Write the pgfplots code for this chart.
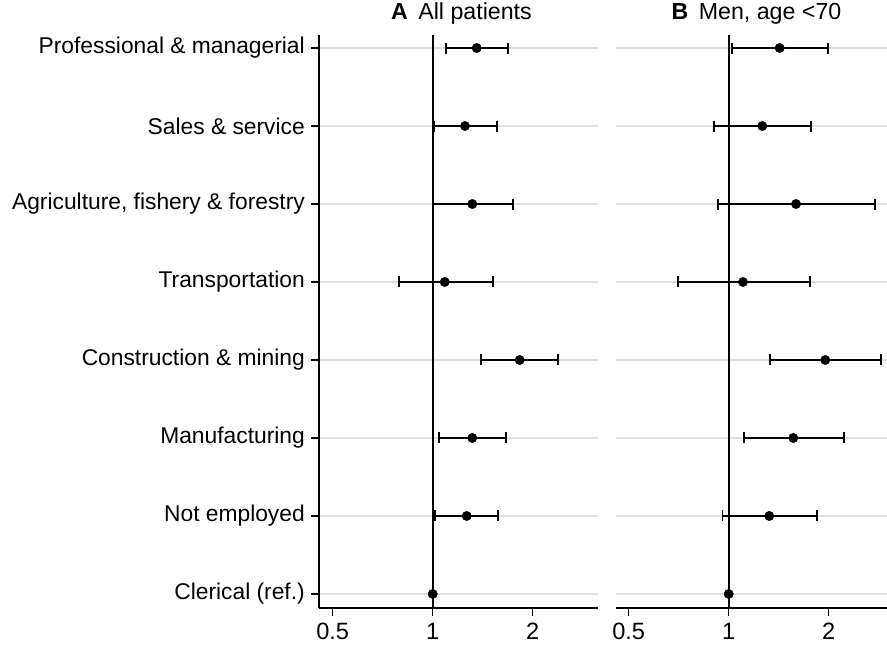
\documentclass[border=0pt]{standalone}
\usepackage{pgfplots}
\pgfplotsset{compat=1.18}
\usepackage{fontspec}
\setmainfont{Liberation Sans}
\newcommand{\lblfont}{\fontsize{22.8}{26}\selectfont}
\newcommand{\tckfont}{\fontsize{23.6}{27}\selectfont}
\newcommand{\ttlfont}{\fontsize{23.2}{27}\selectfont}
\pgfplotsset{
  myforest/.style={
    scale only axis, height=573pt,
    ymin=0.82, ymax=8.167,
    xtick={0.5,1,2}, xticklabels={0.5,1,2},
    ytick={1,2,3,4,5,6,7,8},
    ymajorgrids, grid style={black!13, line width=1.4pt},
    tick align=outside,
    axis x line*=bottom, axis y line*=left,
    axis line style={line width=1.7pt, -},
    major tick style={line width=1.5pt, black},
    major tick length=8pt,
    xticklabel style={font=\tckfont, inner sep=0pt, yshift=-7pt},
    yticklabel style={font=\lblfont, inner sep=0pt, xshift=-6pt},
    title style={font=\ttlfont, anchor=south, inner sep=0pt, yshift=4pt},
    /pgf/number format/assume math mode=true,
    clip=false,
  },
  myci/.style={black, line width=1.7pt, mark=|, mark size=5.5pt, mark options={line width=1.7pt}, unbounded coords=jump},
  mypt/.style={only marks, mark=*, mark size=4.7pt, black},
  myrefl/.style={black, line width=1.8pt},
}
\begin{document}
\begin{tikzpicture}
\useasboundingbox (-319pt,-40pt) rectangle (568pt,608pt);
% Panel A
\begin{axis}[xmode=log, myforest, at={(0pt,0pt)}, anchor=south west, width=279pt,
  xmin=0.4547, xmax=3.145,
  yticklabels={Clerical (ref.),Not employed,Manufacturing,Construction \& mining,Transportation,{Agriculture, fishery \& forestry},Sales \& service,Professional \& managerial},
  title={\textbf{A}\hspace{0.45em}All patients}, title style={xshift=3pt}]
\addplot[myrefl] coordinates {(1,0.82) (1,8.167)};
\addplot[myci] coordinates {
 (1.094,8) (1.689,8) (nan,nan)
 (1.007,7) (1.561,7) (nan,nan)
 (1.004,6) (1.748,6) (nan,nan)
 (0.790,5) (1.516,5) (nan,nan)
 (1.400,4) (2.388,4) (nan,nan)
 (1.047,3) (1.666,3) (nan,nan)
 (1.018,2) (1.576,2)
};
\addplot[mypt] coordinates {
 (1.357,8) (1.251,7) (1.316,6) (1.087,5) (1.828,4) (1.316,3) (1.266,2) (1,1)
};
\end{axis}
% Panel B
\begin{axis}[xmode=log, myforest, at={(297pt,0pt)}, anchor=south west, width=271pt,
  xmin=0.4579, xmax=2.996,
  yticklabels={}, y axis line style={draw=none}, ytick style={draw=none},
  title={\textbf{B}\hspace{0.45em}Men, age <70}, title style={xshift=5pt}]
\addplot[myrefl] coordinates {(1,0.82) (1,8.167)};
\addplot[myci] coordinates {
 (1.023,8) (1.995,8) (nan,nan)
 (0.903,7) (1.773,7) (nan,nan)
 (0.930,6) (2.752,6) (nan,nan)
 (0.704,5) (1.757,5) (nan,nan)
 (1.334,4) (2.880,4) (nan,nan)
 (1.110,3) (2.228,3) (nan,nan)
 (0.957,2) (1.848,2)
};
\addplot[mypt] coordinates {
 (1.424,8) (1.262,7) (1.595,6) (1.104,5) (1.953,4) (1.565,3) (1.325,2) (1,1)
};
\end{axis}
\end{tikzpicture}
\end{document}
